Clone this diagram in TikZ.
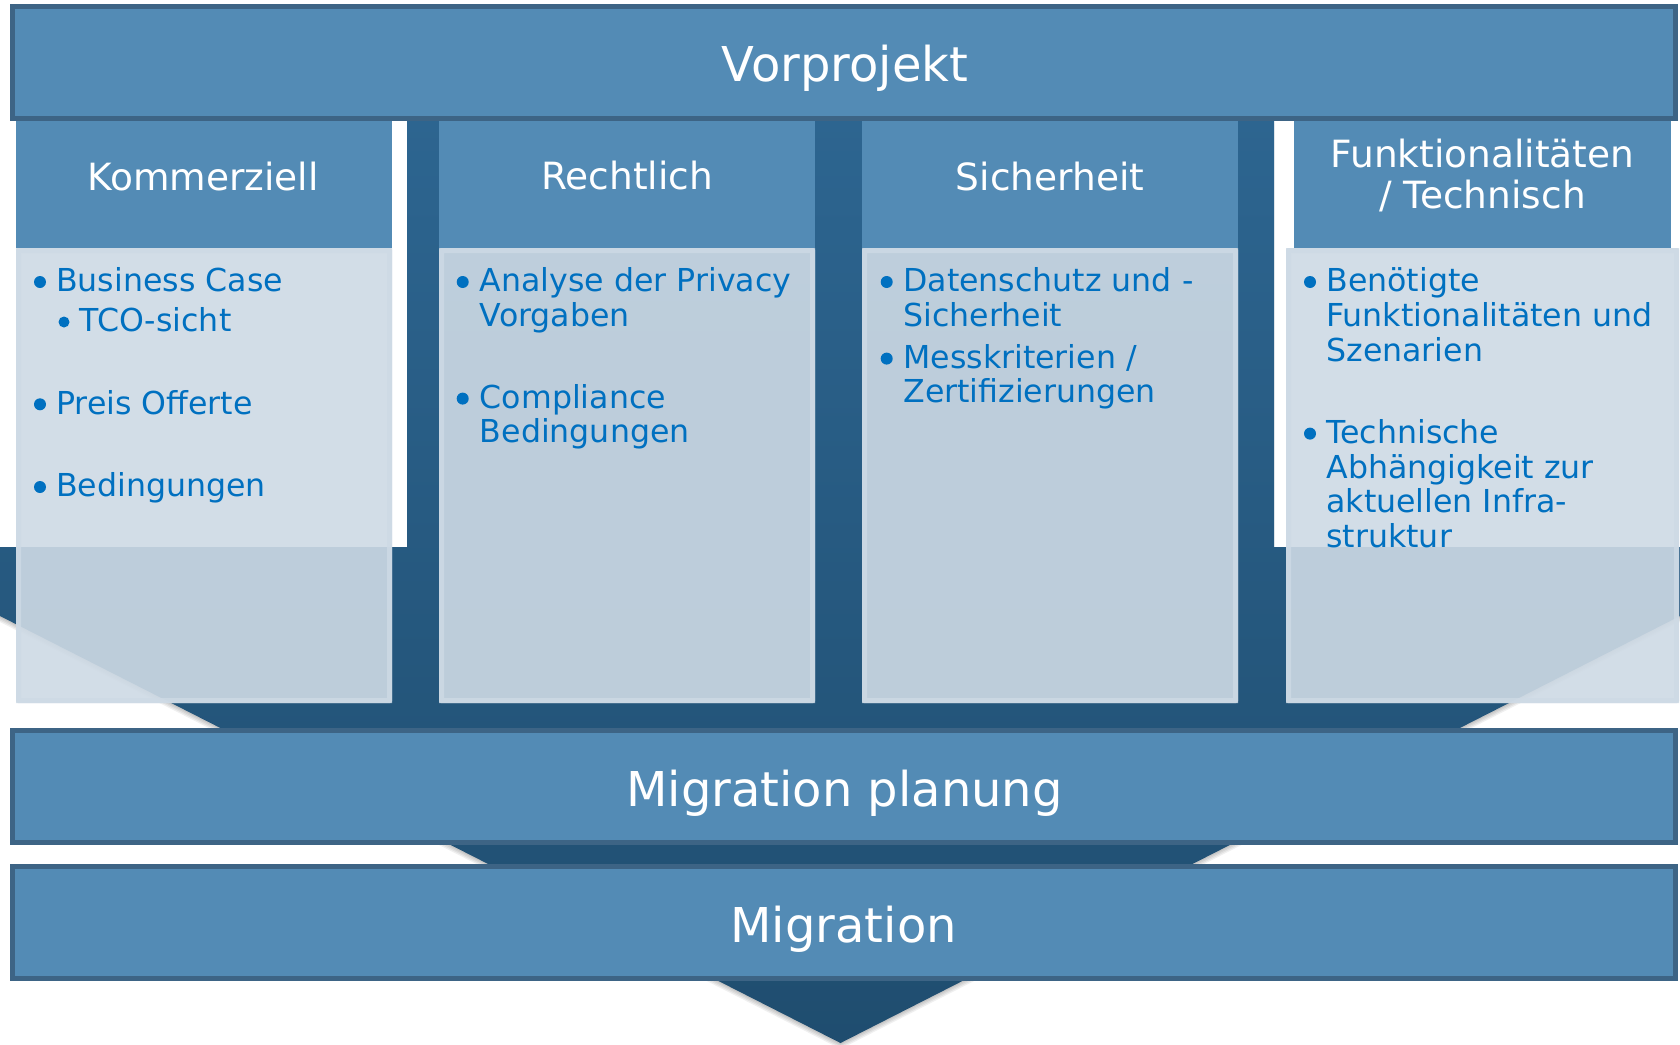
\documentclass[tikz,border=0pt]{standalone}
\usepackage{fontspec}
\setmainfont{DejaVu Sans}
\definecolor{barfill}{RGB}{83,139,181}
\definecolor{barline}{RGB}{61,100,133}
\definecolor{funtop}{RGB}{45,101,144}
\definecolor{funbot}{RGB}{31,77,111}
\definecolor{boxc}{RGB}{206,218,229}
\definecolor{txtblue}{RGB}{0,112,192}
\newcommand\mycontentbox[4]{%
  \fill[boxc, fill opacity=0.9, rounded corners=2pt] (#1,#2) rectangle (#3,#4);
  \fill[boxc, fill opacity=0.8, even odd rule] (#1,#2) rectangle (#3,#4) (#1+5,#2+5) rectangle (#3-5,#4-5);
}
\begin{document}
\begin{tikzpicture}[x=1pt,y=-1pt,
  bar/.style={draw=barline, line width=5pt, fill=barfill, minimum width=1663pt, minimum height=112pt, inner sep=0pt},
  head/.style={fill=barfill, minimum width=376pt, minimum height=128pt, inner sep=0pt},
  bartxt/.style={text=white, font=\fontsize{48}{58}\selectfont, inner sep=0pt, anchor=base},
  headtxt/.style={text=white, font=\fontsize{37.5}{40.6}\selectfont, inner sep=0pt, anchor=base},
  item/.style={text=txtblue, font=\fontsize{31.6}{34.5}\selectfont, inner sep=0pt, anchor=base west},
  dot/.style={fill=txtblue}]
\useasboundingbox (0,0) rectangle (1680,1044);
\fill[white] (0,0) rectangle (1680,1044);
% funnel shadow
\foreach \s in {1.5,3,4.5,6}{
  \fill[black, fill opacity=0.06, shift={(0,\s)}]
    (407,118) -- (1274,118) -- (1274,547) -- (1682,547) -- (1682,615) -- (840.5,1043)
    -- (-2,615) -- (-2,547) -- (407,547) -- cycle;
}
% funnel
\shade[top color=funtop, bottom color=funbot]
    (407,118) -- (1274,118) -- (1274,547) -- (1682,547) -- (1682,615) -- (840.5,1043)
    -- (-2,615) -- (-2,547) -- (407,547) -- cycle;
% headers
\node[head] (h1) at (204,184) {};
\node[head] (h2) at (627,184) {};
\node[head] (h3) at (1050,184) {};
\node[head, minimum width=377pt] (h4) at (1482.5,184) {};
% content boxes
\mycontentbox{16}{248}{392}{703}
\mycontentbox{439}{248}{815}{703}
\mycontentbox{862}{248}{1238}{703}
\mycontentbox{1286}{248}{1679}{703}
% bars
\node[bar] (vor) at (844,62.5) {};
\node[bar] (plan) at (844,786.5) {};
\node[bar] (mig) at (844,922.5) {};
\node[bartxt] (vort) at (845,81.7) {Vorprojekt};
\node[bartxt] (plant) at (844.5,806) {Migration planung};
\node[bartxt] (migt) at (843.7,942) {Migration};
% header texts
\node[headtxt] (h1t) at (203,190) {Kommerziell};
\node[headtxt] (h2t) at (627,189.3) {Rechtlich};
\node[headtxt] (h3t) at (1050,190) {Sicherheit};
\node[headtxt] (h4ta) at (1482.5,167.7) {Funktionalitäten};
\node[headtxt] (h4tb) at (1482.5,208.3) {/ Technisch};
% column 1
\fill[dot] (40,282) circle (6);
\node[item] (k1) at (56,291.7) {Business Case};
\fill[dot] (64,322) circle (5.5);
\node[item] (k2) at (79.5,331.7) {TCO-sicht};
\fill[dot] (40,404.3) circle (6);
\node[item] (k3) at (56,414) {Preis Offerte};
\fill[dot] (40,487) circle (6);
\node[item] (k4) at (56,496.7) {Bedingungen};
% column 2
\fill[dot] (462.7,282) circle (6);
\node[item] (r1) at (479.7,291.7) {Analyse der Privacy};
\node[item] (r2) at (479.7,326) {Vorgaben};
\fill[dot] (462.7,398.6) circle (6);
\node[item] (r3) at (479.7,408.3) {Compliance};
\node[item] (r4) at (479.7,442.7) {Bedingungen};
% column 3
\fill[dot] (886.7,282) circle (6);
\node[item] (s1) at (903.2,291.7) {Datenschutz und -};
\node[item] (s2) at (903.2,326) {Sicherheit};
\fill[dot] (886.7,358.6) circle (6);
\node[item] (s3) at (903.2,368.3) {Messkriterien /};
\node[item] (s4) at (903.2,402.7) {Zertifizierungen};
% column 4
\fill[dot] (1310,282) circle (6);
\node[item] (f1) at (1326.2,291.7) {Benötigte};
\node[item] (f2) at (1326.2,326) {Funktionalitäten und};
\node[item] (f3) at (1326.2,361) {Szenarien};
\fill[dot] (1310,433.6) circle (6);
\node[item] (f4) at (1326.2,443.3) {Technische};
\node[item] (f5) at (1326.2,478.7) {Abhängigkeit zur};
\node[item] (f6) at (1326.2,512.7) {aktuellen Infra-};
\node[item] (f7) at (1326.2,547.7) {struktur};
\end{tikzpicture}
\end{document}
